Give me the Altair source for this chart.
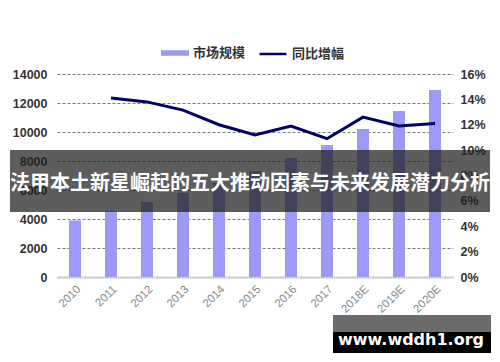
import altair as alt
import pandas as pd

years = ["2010", "2011", "2012", "2013", "2014", "2015", "2016", "2017", "2018E", "2019E", "2020E"]
market = [3900, 4550, 5170, 5800, 6480, 7310, 8210, 9100, 10200, 11450, 12900]
growth = [None, 14.1, 13.8, 13.15, 12.0, 11.2, 11.9, 10.9, 12.6, 11.9, 12.1]

bar_name = "市场规模"
line_name = "同比增幅"
banner_text = "法甲本土新星崛起的五大推动因素与未来发展潜力分析"
mark_text = "www.wddh1.org"

df = pd.DataFrame({"year": years, "market": market, "growth": growth, "s1": bar_name, "s2": line_name})
dummy = pd.DataFrame({"a": [0]})

W, H = 396, 203
xenc = alt.X("year:N", sort=years, title=None,
             scale=alt.Scale(paddingInner=0.0, paddingOuter=0.0),
             axis=alt.Axis(labelAngle=-45, labelColor="#888", labelFontSize=11.5,
                           labelFont="Liberation Sans", ticks=False, domain=True,
                           domainColor="#ccc", domainWidth=2, labelPadding=6))

bars = alt.Chart(df).mark_bar(size=12).encode(
    x=xenc,
    y=alt.Y("market:Q", title=None, scale=alt.Scale(domain=[0, 14000]),
            axis=alt.Axis(values=list(range(0, 14001, 2000)), format="d", grid=True, gridColor="#555",
                          gridDash=[3, 2], gridWidth=0.8, ticks=False, domain=False,
                          labelFont="Liberation Sans", labelFontSize=12.5, labelFontWeight="bold",
                          labelColor="#333", labelPadding=10, orient="left")),
    fill=alt.Fill("s1:N", scale=alt.Scale(domain=[bar_name], range=["#9b9bf7"]), title=None,
                  legend=alt.Legend(orient="none", legendX=104, legendY=-35,
                                    symbolType="M-1,-0.2L1,-0.2L1,0.2L-1,0.2Z", symbolSize=784,
                                    symbolStrokeWidth=0, symbolOpacity=1,
                                    labelFont="Noto Sans CJK SC", labelFontSize=13,
                                    labelFontWeight="bold", labelColor="#333", labelOffset=4)),
)

line = alt.Chart(df).mark_line(strokeWidth=3).encode(
    x=alt.X("year:N", sort=years),
    y=alt.Y("growth:Q", title=None, scale=alt.Scale(domain=[0, 16]),
            axis=alt.Axis(values=list(range(0, 17, 2)), grid=False, ticks=False, domain=False,
                          labelExpr="datum.value + '%'", labelFont="Liberation Sans",
                          labelFontSize=12.5, labelFontWeight="bold", labelColor="#333",
                          labelPadding=7, orient="right")),
    stroke=alt.Stroke("s2:N", scale=alt.Scale(domain=[line_name], range=["#000066"]), title=None,
                      legend=alt.Legend(orient="none", legendX=201, legendY=-35,
                                        symbolType="stroke", symbolSize=729, symbolStrokeWidth=2.5,
                                        labelFont="Noto Sans CJK SC", labelFontSize=13,
                                        labelFontWeight="bold", labelColor="#333", labelOffset=4)),
)

banner = alt.Chart(dummy).mark_rect(color="#1e1e1e", opacity=0.72).encode(
    x=alt.value(-47), x2=alt.value(433), y=alt.value(76), y2=alt.value(138))
banner_t = alt.Chart(dummy).mark_text(text=banner_text, color="white", fontSize=20,
                                      fontWeight="bold", font="Noto Sans CJK SC",
                                      align="center", baseline="middle").encode(
    x=alt.value(193), y=alt.value(110))
wm_gray = alt.Chart(dummy).mark_rect(color="#6b6b6b").encode(
    x=alt.value(276), x2=alt.value(434), y=alt.value(241), y2=alt.value(258))
wm_black = alt.Chart(dummy).mark_rect(color="#000000").encode(
    x=alt.value(276), x2=alt.value(434), y=alt.value(258), y2=alt.value(279))
wm_t = alt.Chart(dummy).mark_text(text=mark_text, color="white", fontSize=16, fontWeight="bold",
                                  font="DejaVu Sans", align="center",
                                  baseline="alphabetic").encode(
    x=alt.value(354), y=alt.value(271))

chart = alt.layer(bars, line, banner, banner_t, wm_gray, wm_black, wm_t).resolve_scale(
    y="independent").properties(
    width=W, height=H,
    autosize=alt.AutoSizeParams(type="none"),
    padding={"left": 49, "top": 66, "right": 39, "bottom": 77},
).configure_view(stroke=None)

chart.save("out.html", embed_options={"renderer": "svg", "actions": False})
